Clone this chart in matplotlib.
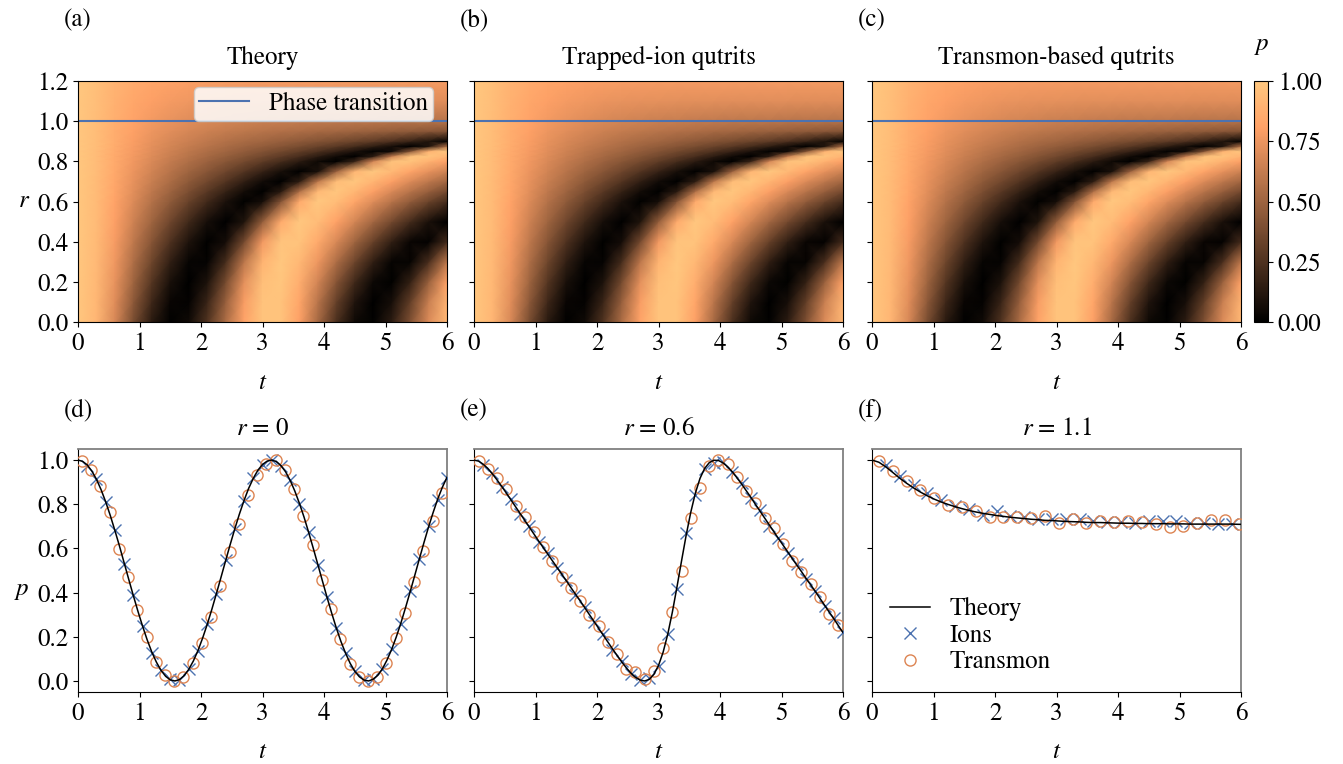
import numpy as np
import matplotlib
matplotlib.use("Agg")
import matplotlib.pyplot as plt

plt.rcParams['font.family'] = ['STIXGeneral', 'DejaVu Serif']
plt.rcParams['mathtext.fontset'] = 'stix'
plt.rcParams['font.size'] = 18

# ---------------- data ----------------
# time axis for the r = 0 and r = 0.6 curves (step 0.075)
t_line = np.linspace(0.0, 6.0, 81)

p_theory_r0 = [1.000, 0.994, 0.978, 0.950, 0.913, 0.866, 0.811, 0.749, 0.681, 0.610,
               0.535, 0.460, 0.386, 0.315, 0.248, 0.186, 0.131, 0.085, 0.048, 0.021,
               0.005, 0.000, 0.006, 0.024, 0.052, 0.090, 0.137, 0.193, 0.255, 0.323,
               0.395, 0.469, 0.544, 0.618, 0.689, 0.756, 0.817, 0.872, 0.917, 0.954,
               0.980, 0.995, 1.000, 0.993, 0.975, 0.947, 0.908, 0.860, 0.804, 0.742,
               0.673, 0.601, 0.527, 0.452, 0.378, 0.307, 0.240, 0.179, 0.126, 0.080,
               0.044, 0.019, 0.004, 0.000, 0.008, 0.026, 0.055, 0.095, 0.143, 0.199,
               0.262, 0.331, 0.403, 0.477, 0.552, 0.626, 0.697, 0.763, 0.824, 0.877,
               0.922]

p_theory_r06 = [1.000, 0.995, 0.981, 0.962, 0.937, 0.910, 0.881, 0.851, 0.820, 0.789,
                0.758, 0.727, 0.696, 0.665, 0.634, 0.604, 0.574, 0.544, 0.514, 0.484,
                0.454, 0.423, 0.393, 0.363, 0.332, 0.301, 0.270, 0.239, 0.208, 0.177,
                0.146, 0.116, 0.087, 0.060, 0.036, 0.017, 0.004, 0.000, 0.007, 0.030,
                0.070, 0.130, 0.211, 0.311, 0.425, 0.544, 0.660, 0.764, 0.851, 0.917,
                0.962, 0.988, 0.999, 0.998, 0.987, 0.969, 0.947, 0.920, 0.892, 0.862,
                0.832, 0.800, 0.769, 0.738, 0.707, 0.676, 0.645, 0.615, 0.585, 0.554,
                0.524, 0.495, 0.464, 0.435, 0.405, 0.374, 0.343, 0.312, 0.282, 0.250,
                0.219]

# r = 1.1 curve
t_line_f = np.append(np.linspace(0.0, 5.9625, 54), 6.0)
p_theory_r11 = [1.000, 0.990, 0.969, 0.944, 0.918, 0.895, 0.874, 0.855, 0.838, 0.823,
                0.810, 0.799, 0.789, 0.780, 0.772, 0.765, 0.759, 0.754, 0.749, 0.745,
                0.741, 0.738, 0.735, 0.732, 0.730, 0.727, 0.726, 0.724, 0.722, 0.721,
                0.720, 0.718, 0.717, 0.717, 0.716, 0.715, 0.714, 0.714, 0.713, 0.713,
                0.712, 0.712, 0.712, 0.711, 0.711, 0.711, 0.710, 0.710, 0.710, 0.710,
                0.710, 0.710, 0.710, 0.709, 0.709]

# measured points, panel (d) r = 0
t_ions_d = t_line[2::2]
p_ions_d = [0.975, 0.915, 0.812, 0.683, 0.530, 0.390, 0.250, 0.128, 0.050, 0.008,
            0.006, 0.055, 0.135, 0.258, 0.393, 0.546, 0.690, 0.815, 0.920, 0.978,
            0.998, 0.972, 0.910, 0.801, 0.675, 0.525, 0.381, 0.238, 0.128, 0.045,
            0.006, 0.010, 0.052, 0.145, 0.260, 0.405, 0.550, 0.700, 0.820, 0.918]
t_trans_d = np.linspace(0.065, 5.915, 40)
p_trans_d = [0.995, 0.957, 0.881, 0.767, 0.599, 0.472, 0.319, 0.199, 0.086, 0.025,
             0.000, 0.020, 0.081, 0.173, 0.291, 0.429, 0.582, 0.712, 0.842, 0.934,
             0.980, 1.000, 0.954, 0.870, 0.747, 0.617, 0.456, 0.326, 0.188, 0.077,
             0.020, 0.000, 0.017, 0.081, 0.193, 0.306, 0.449, 0.590, 0.724, 0.851]

# panel (e) r = 0.6
t_ions_e = t_line[2::2]
p_ions_e = [0.978, 0.940, 0.878, 0.823, 0.755, 0.700, 0.630, 0.578, 0.510, 0.458,
            0.390, 0.335, 0.266, 0.212, 0.142, 0.090, 0.032, 0.006, 0.012, 0.066,
            0.213, 0.418, 0.668, 0.840, 0.960, 0.985, 0.990, 0.945, 0.895, 0.828,
            0.772, 0.703, 0.648, 0.580, 0.528, 0.460, 0.408, 0.340, 0.286, 0.222]
t_trans_e = t_line[1::2]
p_trans_e = [0.997, 0.959, 0.920, 0.867, 0.790, 0.744, 0.675, 0.606, 0.545, 0.469,
             0.423, 0.361, 0.300, 0.247, 0.175, 0.124, 0.055, 0.040, 0.009, 0.047,
             0.147, 0.312, 0.496, 0.737, 0.874, 0.974, 1.000, 0.982, 0.925, 0.859,
             0.806, 0.737, 0.691, 0.619, 0.542, 0.492, 0.438, 0.381, 0.303, 0.254]

# panel (f) r = 1.1
t_ions_f = t_line_f[2:53:2]
p_ions_f = [0.977, 0.930, 0.888, 0.849, 0.818, 0.790, 0.779, 0.753, 0.768, 0.748,
            0.743, 0.735, 0.732, 0.732, 0.732, 0.725, 0.720, 0.720, 0.717, 0.725,
            0.725, 0.725, 0.717, 0.717, 0.709, 0.709]
t_trans_f = t_line_f[1:54:2]
p_trans_f = [0.997, 0.950, 0.907, 0.865, 0.830, 0.798, 0.787, 0.768, 0.743, 0.743,
             0.740, 0.737, 0.748, 0.717, 0.732, 0.717, 0.725, 0.720, 0.725, 0.720,
             0.709, 0.697, 0.701, 0.717, 0.728, 0.728, 0.709]

# heat-map grid (t every 0.3, rows at r values below)
t_heat = np.linspace(0.0, 6.0, 21)
r_heat = [0.0, 0.1, 0.2, 0.3, 0.4, 0.5, 0.6, 0.65, 0.7, 0.75, 0.8, 0.825, 0.85,
          0.875, 0.9, 0.95, 1.0, 1.1, 1.2]
p_heat_r0 = p_theory_r0[::4]
p_heat_r01 = [1.000, 0.917, 0.710, 0.446, 0.196, 0.031, 0.015, 0.180, 0.480, 0.787, 0.975,
              0.980, 0.830, 0.587, 0.321, 0.103, 0.001, 0.071, 0.311, 0.635, 0.898]
p_heat_r02 = [1.000, 0.922, 0.736, 0.504, 0.270, 0.082, 0.000, 0.092, 0.373, 0.722, 0.955,
              0.992, 0.872, 0.666, 0.429, 0.204, 0.042, 0.007, 0.162, 0.484, 0.814]
p_heat_r03 = [1.000, 0.926, 0.760, 0.558, 0.350, 0.159, 0.025, 0.019, 0.222, 0.591, 0.901,
              1.000, 0.923, 0.756, 0.553, 0.345, 0.155, 0.023, 0.021, 0.229, 0.599]
p_heat_r04 = [1.000, 0.930, 0.782, 0.608, 0.429, 0.253, 0.097, 0.004, 0.066, 0.368, 0.767,
              0.982, 0.974, 0.850, 0.684, 0.506, 0.327, 0.159, 0.031, 0.013, 0.212]
p_heat_r05 = [1.000, 0.934, 0.802, 0.655, 0.505, 0.355, 0.207, 0.073, 0.000, 0.101, 0.465,
              0.859, 0.999, 0.944, 0.815, 0.668, 0.519, 0.368, 0.220, 0.084, 0.002]
p_heat_r06 = p_theory_r06[::4]
p_heat_r065 = [1.000, 0.939, 0.829, 0.715, 0.605, 0.500, 0.394, 0.285, 0.171, 0.060, 0.000,
               0.129, 0.556, 0.927, 0.996, 0.916, 0.803, 0.690, 0.582, 0.477, 0.370]
p_heat_r07 = [1.000, 0.941, 0.837, 0.732, 0.635, 0.543, 0.453, 0.361, 0.263, 0.158, 0.055,
              0.000, 0.146, 0.598, 0.948, 0.991, 0.907, 0.801, 0.699, 0.603, 0.513]
p_heat_r075 = [1.000, 0.942, 0.844, 0.749, 0.662, 0.583, 0.507, 0.432, 0.353, 0.268, 0.174,
               0.076, 0.003, 0.082, 0.494, 0.912, 0.998, 0.927, 0.828, 0.734, 0.649]
p_heat_r08 = [1.000, 0.944, 0.851, 0.764, 0.688, 0.620, 0.557, 0.496, 0.436, 0.372, 0.303,
              0.226, 0.137, 0.046, 0.001, 0.180, 0.675, 0.977, 0.979, 0.894, 0.803]
p_heat_r0825 = [1.000, 0.944, 0.855, 0.772, 0.700, 0.637, 0.580, 0.526, 0.473, 0.420, 0.363,
                0.299, 0.227, 0.144, 0.054, 0.000, 0.144, 0.630, 0.967, 0.984, 0.903]
p_heat_r085 = [1.000, 0.945, 0.858, 0.779, 0.711, 0.653, 0.601, 0.554, 0.508, 0.463, 0.417,
               0.367, 0.311, 0.247, 0.172, 0.086, 0.010, 0.049, 0.432, 0.895, 0.999]
p_heat_r0875 = [1.000, 0.946, 0.862, 0.786, 0.722, 0.669, 0.622, 0.580, 0.541, 0.503, 0.465,
                0.426, 0.385, 0.339, 0.286, 0.225, 0.151, 0.067, 0.002, 0.098, 0.561]
p_heat_r09 = [1.000, 0.947, 0.865, 0.792, 0.733, 0.683, 0.641, 0.604, 0.570, 0.539, 0.509,
              0.479, 0.448, 0.416, 0.381, 0.342, 0.297, 0.243, 0.179, 0.101, 0.022]
p_heat_r095 = [1.000, 0.948, 0.871, 0.805, 0.753, 0.711, 0.676, 0.648, 0.623, 0.601, 0.582,
               0.564, 0.547, 0.531, 0.516, 0.501, 0.486, 0.471, 0.455, 0.439, 0.421]
p_heat_r10 = [1.000, 0.949, 0.877, 0.817, 0.771, 0.735, 0.708, 0.685, 0.667, 0.653, 0.640,
              0.629, 0.620, 0.612, 0.605, 0.599, 0.594, 0.589, 0.584, 0.580, 0.576]
p_heat_r11 = [1.000, 0.952, 0.887, 0.838, 0.802, 0.777, 0.759, 0.746, 0.737, 0.730, 0.724,
              0.720, 0.717, 0.715, 0.713, 0.712, 0.711, 0.711, 0.710, 0.710, 0.709]
p_heat_r12 = [1.000, 0.954, 0.897, 0.856, 0.829, 0.811, 0.800, 0.792, 0.787, 0.783, 0.781,
              0.780, 0.779, 0.778, 0.778, 0.777, 0.777, 0.777, 0.777, 0.776, 0.776]

heat_rows = [p_heat_r0, p_heat_r01, p_heat_r02, p_heat_r03, p_heat_r04, p_heat_r05,
             p_heat_r06, p_heat_r065, p_heat_r07, p_heat_r075, p_heat_r08, p_heat_r0825,
             p_heat_r085, p_heat_r0875, p_heat_r09, p_heat_r095, p_heat_r10, p_heat_r11,
             p_heat_r12]

top_titles = ["Theory", "Trapped-ion qutrits", "Transmon-based qutrits"]
bottom_titles = ["$r$ = 0", "$r$ = 0.6", "$r$ = 1.1"]
top_letters = ["(a)", "(b)", "(c)"]
bottom_letters = ["(d)", "(e)", "(f)"]

# ---------------- figure ----------------
W, H = 1343, 764
fig = plt.figure(figsize=(W / 100, H / 100), dpi=100)


def ax_at(x0, y0, x1, y1):
    return fig.add_axes([x0 / W, 1 - y1 / H, (x1 - x0) / W, (y1 - y0) / H])


BLUE = '#4C72B0'
ORANGE = '#DD8452'
cols = [(78, 447), (474, 843), (872, 1241)]

P = np.array(heat_rows)
T, R = np.meshgrid(t_heat, np.array(r_heat))

mesh = None
for i, (x0, x1) in enumerate(cols):
    ax = ax_at(x0, 81, x1, 322)
    mesh = ax.pcolormesh(T, R, P, cmap='copper', vmin=0, vmax=1, shading='gouraud')
    ax.axhline(1.0, color=BLUE, lw=1.5, label='Phase transition')
    ax.set_xlim(0, 6)
    ax.set_ylim(0, 1.2)
    ax.set_xticks(range(7))
    ax.set_yticks([0, 0.2, 0.4, 0.6, 0.8, 1.0, 1.2])
    ax.tick_params(labelsize=18)
    if i == 0:
        ax.set_yticklabels(['0.0', '0.2', '0.4', '0.6', '0.8', '1.0', '1.2'])
        ax.legend(loc='upper right', bbox_to_anchor=(0.962, 0.975), fontsize=18,
                  handlelength=2.0, borderpad=0.2, borderaxespad=0.0, framealpha=0.85)
    else:
        ax.tick_params(labelleft=False)
    ax.set_title(top_titles[i], fontsize=18, pad=12)
    fig.text((x0 - 14) / W, 1 - 20 / H, top_letters[i], ha='left', va='center', fontsize=18)
    fig.text(((x0 + x1) / 2) / W, 1 - 383 / H, '$t$', ha='center', va='center', fontsize=18)

fig.text(24 / W, 1 - 201 / H, '$r$', ha='center', va='center', fontsize=18)

cax = ax_at(1254, 81, 1268, 322)
cb = fig.colorbar(mesh, cax=cax, ticks=[0, 0.25, 0.5, 0.75, 1.0])
cb.ax.set_yticklabels(['0.00', '0.25', '0.50', '0.75', '1.00'])
cb.ax.tick_params(labelsize=18)
cb.outline.set_linewidth(0.8)
fig.text(1262 / W, 1 - 45 / H, '$p$', ha='center', va='center', fontsize=18)

theory_sets = [(t_line, p_theory_r0), (t_line, p_theory_r06), (t_line_f, p_theory_r11)]
ion_sets = [(t_ions_d, p_ions_d), (t_ions_e, p_ions_e), (t_ions_f, p_ions_f)]
trans_sets = [(t_trans_d, p_trans_d), (t_trans_e, p_trans_e), (t_trans_f, p_trans_f)]

for i, (x0, x1) in enumerate(cols):
    ax = ax_at(x0, 449, x1, 692)
    ax.plot(*theory_sets[i], color='black', lw=1.1, zorder=4, label='Theory')
    ax.plot(*ion_sets[i], ls='none', marker='x', ms=8, mew=1.0, color=BLUE,
            zorder=3, label='Ions')
    ax.plot(*trans_sets[i], ls='none', marker='o', ms=8, mew=1.0, mfc='none',
            mec=ORANGE, zorder=3, label='Transmon')
    ax.set_xlim(0, 6)
    ax.set_ylim(-0.05, 1.05)
    ax.set_xticks(range(7))
    ax.set_yticks([0, 0.2, 0.4, 0.6, 0.8, 1.0])
    ax.tick_params(labelsize=18)
    for s in ('top', 'right'):
        ax.spines[s].set_color('#808080')
        ax.spines[s].set_linewidth(1.3)
    if i == 0:
        ax.set_yticklabels(['0.0', '0.2', '0.4', '0.6', '0.8', '1.0'])
    else:
        ax.tick_params(labelleft=False)
    if i == 2:
        ax.legend(loc='lower left', frameon=False, fontsize=18, handlelength=1.6,
                  labelspacing=0.1, borderaxespad=0.3)
    ax.set_title(bottom_titles[i], fontsize=18, pad=10)
    fig.text((x0 - 14) / W, 1 - 410 / H, bottom_letters[i], ha='left', va='center',
             fontsize=18)
    fig.text(((x0 + x1) / 2) / W, 1 - 752 / H, '$t$', ha='center', va='center', fontsize=18)

fig.text(22 / W, 1 - 590 / H, '$p$', ha='center', va='center', fontsize=18)

fig.savefig('out.png', dpi=100)
